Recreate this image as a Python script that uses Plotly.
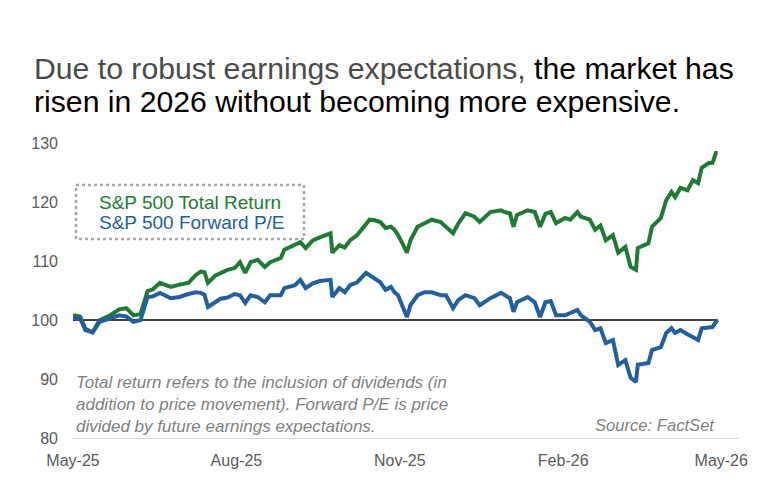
import plotly.graph_objects as go

dates = [
    "2025-05-01", "2025-05-05", "2025-05-08", "2025-05-12", "2025-05-16", "2025-05-22",
    "2025-05-27", "2025-05-31", "2025-06-04", "2025-06-08", "2025-06-12", "2025-06-15",
    "2025-06-19", "2025-06-25", "2025-06-30", "2025-07-05", "2025-07-09", "2025-07-12",
    "2025-07-14", "2025-07-16", "2025-07-20", "2025-07-23", "2025-07-27", "2025-07-31",
    "2025-08-03", "2025-08-06", "2025-08-09", "2025-08-13", "2025-08-17", "2025-08-20",
    "2025-08-26", "2025-08-28", "2025-09-03", "2025-09-06", "2025-09-09", "2025-09-13",
    "2025-09-17", "2025-09-23", "2025-09-24", "2025-09-28", "2025-10-01", "2025-10-04",
    "2025-10-08", "2025-10-13", "2025-10-15", "2025-10-18", "2025-10-21", "2025-10-24",
    "2025-10-27", "2025-10-29", "2025-10-31", "2025-11-03", "2025-11-05", "2025-11-07",
    "2025-11-11", "2025-11-15", "2025-11-19", "2025-11-24", "2025-11-27", "2025-12-01",
    "2025-12-04", "2025-12-08", "2025-12-13", "2025-12-16", "2025-12-22", "2025-12-28",
    "2025-12-30", "2026-01-02", "2026-01-04", "2026-01-06", "2026-01-12", "2026-01-16",
    "2026-01-19", "2026-01-22", "2026-01-25", "2026-01-28", "2026-02-02", "2026-02-05",
    "2026-02-09", "2026-02-11", "2026-02-16", "2026-02-19", "2026-02-22", "2026-02-25",
    "2026-03-01", "2026-03-04", "2026-03-08", "2026-03-11", "2026-03-14", "2026-03-15",
    "2026-03-21", "2026-03-23", "2026-03-28", "2026-03-31", "2026-04-03", "2026-04-05",
    "2026-04-08", "2026-04-12", "2026-04-15", "2026-04-18", "2026-04-20", "2026-04-24",
    "2026-04-26", "2026-04-28", "2026-04-29",
]

total_return = [
    100.8, 100.6, 98.5, 97.9, 100.0, 100.8,
    101.8, 102.0, 100.8, 101.0, 104.9, 105.2,
    106.3, 105.6, 106.0, 106.3, 107.6, 108.2,
    108.1, 106.3, 107.5, 108.0, 108.5, 108.8,
    109.8, 108.0, 109.8, 110.2, 109.0, 109.8,
    110.5, 111.9, 112.7, 113.2, 112.2, 113.5,
    114.0, 114.7, 111.4, 112.7, 112.3, 113.5,
    114.4, 116.4, 117.0, 116.9, 116.6, 115.6,
    115.8, 115.3, 114.4, 112.7, 111.4, 113.5,
    115.8, 116.4, 117.0, 116.6, 115.8, 114.7,
    116.4, 118.1, 117.5, 116.6, 118.3, 118.6,
    118.3, 118.1, 115.8, 117.8, 118.6, 118.3,
    115.8, 118.0, 118.3, 116.4, 117.3, 117.0,
    118.3, 117.5, 117.0, 115.3, 116.0, 113.5,
    114.4, 111.4, 112.4, 109.0, 108.5, 112.2,
    113.0, 115.8, 117.3, 120.3, 121.7, 120.8,
    122.4, 122.0, 123.7, 123.2, 125.8, 126.6,
    126.6, 128.3, 128.3,
]

forward_pe = [
    100.3, 100.3, 98.3, 97.9, 99.7, 100.3,
    100.8, 100.6, 99.7, 100.0, 103.9, 104.0,
    104.6, 103.7, 103.9, 104.4, 104.7, 104.6,
    104.3, 102.2, 103.0, 103.6, 103.8, 104.4,
    104.2, 102.9, 104.2, 103.9, 103.0, 104.2,
    104.2, 105.4, 105.9, 106.8, 105.4, 106.2,
    106.6, 106.8, 103.9, 105.4, 104.7, 105.9,
    106.4, 108.0, 107.6, 107.0, 106.4, 105.1,
    105.6, 104.7, 104.2, 102.0, 100.5, 102.5,
    104.2, 104.7, 104.7, 104.2, 104.2, 102.0,
    103.4, 104.2, 103.7, 102.5, 103.7, 104.6,
    104.2, 103.7, 101.4, 103.0, 103.9, 103.0,
    100.5, 103.0, 103.2, 100.8, 100.8, 101.2,
    101.7, 100.8, 99.7, 98.3, 98.6, 96.1,
    96.6, 92.4, 93.2, 90.2, 89.5, 92.4,
    92.7, 94.9, 95.4, 97.8, 98.6, 97.8,
    98.3, 97.6, 97.1, 96.6, 98.6, 98.8,
    98.8, 99.7, 100.0,
]

tick_dates = ["2025-05-01", "2025-08-01", "2025-11-01", "2026-02-01", "2026-05-01"]
tick_labels = ["May-25", "Aug-25", "Nov-25", "Feb-26", "May-26"]
y_ticks = [80, 90, 100, 110, 120, 130]
baseline = 100

series_names = ["S&P 500 Total Return", "S&P 500 Forward P/E"]
GREEN = "#217a33"
BLUE = "#235f9c"
FONT = "Liberation Sans, Arial, sans-serif"

fig = go.Figure()
fig.add_trace(go.Scatter(x=[dates[0], dates[-1]], y=[baseline, baseline], mode="lines",
                         line=dict(color="black", width=1.3), showlegend=False, hoverinfo="skip"))
fig.add_trace(go.Scatter(x=dates, y=total_return, mode="lines", name=series_names[0],
                         line=dict(color=GREEN, width=4), showlegend=False))
fig.add_trace(go.Scatter(x=dates, y=forward_pe, mode="lines", name=series_names[1],
                         line=dict(color=BLUE, width=4), showlegend=False))

PLOT_L, PLOT_R, PLOT_T, PLOT_B = 73, 739, 143, 438
PW, PH = PLOT_R - PLOT_L, PLOT_B - PLOT_T

def px(xp):
    return (xp - PLOT_L) / PW

def py(yp):
    return (PLOT_B - yp) / PH

annotations = [
    dict(text="<span style='color:#4a4a4a'>Due to robust earnings expectations,</span> the market has",
         x=px(32), y=py(68), xref="paper", yref="paper", xanchor="left", yanchor="middle",
         showarrow=False, font=dict(size=30.2, color="#000000", family=FONT)),
    dict(text="risen in 2026 without becoming more expensive.",
         x=px(32), y=py(101), xref="paper", yref="paper", xanchor="left", yanchor="middle",
         showarrow=False, font=dict(size=30.2, color="#000000", family=FONT)),
    dict(text=series_names[0], x=px(97), y=py(202), xref="paper", yref="paper",
         xanchor="left", yanchor="middle", showarrow=False,
         font=dict(size=19, color=GREEN, family=FONT)),
    dict(text=series_names[1], x=px(97), y=py(222), xref="paper", yref="paper",
         xanchor="left", yanchor="middle", showarrow=False,
         font=dict(size=19, color=BLUE, family=FONT)),
    dict(text="Total return refers to the inclusion of dividends (in<br>"
              "addition to price movement). Forward P/E is price<br>"
              "divided by future earnings expectations.",
         x=px(74), y=py(404), xref="paper", yref="paper", xanchor="left", yanchor="middle",
         align="left", showarrow=False,
         font=dict(size=17, color="#7f7f7f", family=FONT, style="italic")),
    dict(text="Source: FactSet", x=px(717), y=py(425), xref="paper", yref="paper",
         xanchor="right", yanchor="middle", showarrow=False,
         font=dict(size=16.6, color="#7f7f7f", family=FONT, style="italic")),
]

shapes = [
    dict(type="rect", xref="paper", yref="paper", x0=px(76), x1=px(304), y0=py(185), y1=py(239),
         line=dict(color="#a6a6a6", width=2.5, dash="dot"), fillcolor="rgba(0,0,0,0)"),
]

fig.update_layout(
    width=780, height=503,
    margin=dict(l=PLOT_L, r=780 - PLOT_R, t=PLOT_T, b=503 - PLOT_B),
    paper_bgcolor="white", plot_bgcolor="white",
    font=dict(family=FONT, size=16, color="#595959"),
    showlegend=False,
    annotations=annotations,
    shapes=shapes,
    xaxis=dict(
        type="date", range=["2025-05-01", "2026-05-11"],
        tickvals=tick_dates, ticktext=tick_labels,
        showgrid=False, zeroline=False, showline=True, linecolor="#d9d9d9", linewidth=1,
        ticks="", ticklabelstandoff=8, tickfont=dict(size=16, color="#595959"),
    ),
    yaxis=dict(
        range=[80, 130], tickvals=y_ticks, showgrid=False, zeroline=False, showline=False,
        ticks="", ticklabelstandoff=14, tickfont=dict(size=16, color="#595959"),
    ),
)

fig.write_html("out.html")
